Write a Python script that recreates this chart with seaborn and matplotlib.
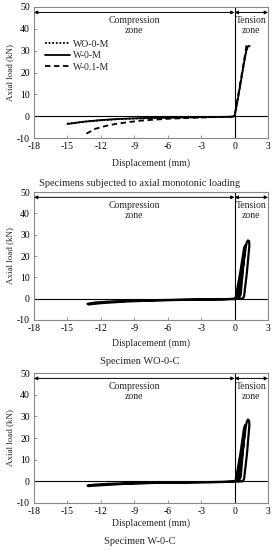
import numpy as np
import pandas as pd
import matplotlib
matplotlib.use("Agg")
import matplotlib.pyplot as plt
import seaborn as sns

# ---- data ----
wo0m_x = [-15.0, -13.5, -12.0, -10.5, -9.0, -7.5, -6.0, -4.5, -3.0, -1.5, -0.3, 0.0, 0.3, 0.6, 0.9, 1.1, 1.25, 1.35]
wo0m_y = [-3.4, -2.6, -1.9, -1.4, -1.1, -0.9, -0.7, -0.6, -0.5, -0.4, -0.3, 0.0, 8.0, 17.0, 26.0, 30.5, 32.0, 32.5]
w0m_x = [-15.0, -13.5, -12.0, -10.5, -9.0, -7.5, -6.0, -4.5, -3.0, -1.5, -0.3, 0.0, 0.3, 0.6, 0.9, 1.05, 1.2, 1.35]
w0m_y = [-3.6, -2.5, -1.8, -1.3, -1.0, -0.8, -0.7, -0.55, -0.45, -0.35, -0.25, 0.0, 8.0, 17.0, 26.0, 30.0, 32.0, 32.0]
w01m_x = [-13.3, -12.5, -11.5, -10.5, -9.5, -8.5, -7.5, -6.0, -4.5, -3.0, -1.5, -0.3, 0.0, 0.3, 0.6, 0.9, 1.05, 1.15]
w01m_y = [-8.0, -5.8, -4.4, -3.4, -2.7, -2.1, -1.7, -1.2, -0.9, -0.6, -0.4, -0.3, 0.0, 9.0, 18.0, 27.0, 32.0, 34.0]

wo0c_x = [0.0, 0.1, 0.5, 0.85, 0.95, 0.9, 0.55, 0.35, 0.3, 0.7, 1.0, 1.1, 1.2, 1.3, 1.33, 1.1, 0.85, 0.7, 0.3, 0.0,
          -3.0, -6.0, -9.0, -11.0, -12.5, -13.2, -13.1, -12.0, -10.0, -7.0, -4.0, -1.0, 0.0]
wo0c_y = [0.0, 0.5, 12.0, 23.5, 25.0, 22.0, 2.0, 0.0, 0.5, 13.0, 24.0, 26.5, 27.3, 27.0, 25.0, 12.0, 1.0, 0.0, 0.0, -0.2,
          -0.4, -0.6, -0.9, -1.3, -1.8, -2.4, -2.7, -2.1, -1.4, -0.8, -0.5, -0.3, 0.0]
w0c_x = [0.0, 0.1, 0.5, 0.85, 0.95, 0.9, 0.55, 0.35, 0.3, 0.7, 1.0, 1.1, 1.2, 1.3, 1.33, 1.1, 0.85, 0.7, 0.3, 0.0,
         -3.0, -6.0, -9.0, -11.0, -12.5, -13.2, -13.1, -12.0, -10.0, -7.0, -4.0, -1.0, 0.0]
w0c_y = [0.0, 0.5, 12.0, 24.5, 26.0, 23.0, 2.0, 0.0, 0.5, 13.0, 25.0, 27.5, 28.5, 28.0, 26.0, 12.0, 1.0, 0.0, 0.0, -0.2,
         -0.4, -0.6, -0.8, -1.1, -1.5, -1.9, -2.2, -1.8, -1.2, -0.7, -0.45, -0.3, 0.0]

x_ticks = [-18, -15, -12, -9, -6, -3, 0, 3]
y_ticks = [-10, 0, 10, 20, 30, 40, 50]
titles = ["Specimens subjected to axial monotonic loading", "Specimen WO-0-C", "Specimen W-0-C"]

sns.set_style("ticks")
plt.rcParams['font.family'] = ['Liberation Serif', 'DejaVu Serif']
plt.rcParams['font.size'] = 7
plt.rcParams['axes.unicode_minus'] = False

fig = plt.figure(figsize=(2.75, 5.5), dpi=100)
positions = [
    [34/275, 1-138/550, 234/275, 131/550],
    [34/275, 1-320/550, 234/275, 128/550],
    [34/275, 1-503/550, 234/275, 130/550],
]
xlabel_y = [163, 343, 523]
title_y = [184, 362, 541]

axes = [fig.add_axes(p) for p in positions]

mono = pd.concat([
    pd.DataFrame({"x": wo0m_x, "y": wo0m_y, "s": "WO-0-M"}),
    pd.DataFrame({"x": w0m_x, "y": w0m_y, "s": "W-0-M"}),
    pd.DataFrame({"x": w01m_x, "y": w01m_y, "s": "W-0.1-M"}),
])
ax = axes[0]
sns.lineplot(data=mono, x="x", y="y", hue="s", style="s", sort=False, estimator=None,
             palette=["black", "black", "black"],
             dashes={"WO-0-M": (1, 1), "W-0-M": "", "W-0.1-M": (3, 2)},
             linewidth=1.3, ax=ax)
ax.legend(loc="upper left", bbox_to_anchor=(0.03, 0.78), frameon=False, fontsize=7,
          handlelength=2.6, labelspacing=0.25, borderaxespad=0, handletextpad=0.3)

cyc = [(wo0c_x, wo0c_y), (w0c_x, w0c_y)]
for ax, (cx, cy) in zip(axes[1:], cyc):
    df = pd.DataFrame({"x": cx, "y": cy})
    sns.lineplot(data=df, x="x", y="y", sort=False, estimator=None, color="black",
                 linewidth=1.6, ax=ax)

for i, ax in enumerate(axes):
    ax.set_xlim(-18, 3)
    ax.set_ylim(-10, 50)
    ax.set_xticks(x_ticks)
    ax.set_yticks(y_ticks)
    ax.tick_params(direction="in", length=2, width=0.6, colors="#888888", labelcolor="black",
                   labelsize=7, pad=3)
    for sp in ax.spines.values():
        sp.set_visible(True)
        sp.set_color("#888888")
        sp.set_linewidth(0.8)
    ax.axhline(0, color="black", lw=0.8, zorder=1)
    ax.axvline(0, color="black", lw=0.8, zorder=1)
    ax.set_xlabel("")
    ax.set_ylabel("Axial load (kN)", fontsize=6.5, labelpad=2)
    ax.annotate("", xy=(-18, 47.5), xytext=(0, 47.5),
                arrowprops=dict(arrowstyle="<|-|>", color="black", lw=0.7,
                                mutation_scale=5, shrinkA=0, shrinkB=0))
    ax.annotate("", xy=(0, 47.5), xytext=(3, 47.5),
                arrowprops=dict(arrowstyle="<|-|>", color="black", lw=0.7,
                                mutation_scale=5, shrinkA=0, shrinkB=0))
    ax.text(-9, 45.8, "Compression\nzone", ha="center", va="top", fontsize=7, linespacing=1.1)
    ax.text(1.5, 45.8, "Tension\nzone", ha="center", va="top", fontsize=7, linespacing=1.1)
    fig.text(151/275, 1 - xlabel_y[i]/550, "Displacement (mm)", ha="center", va="center", fontsize=7)
    fig.text(140/275, 1 - title_y[i]/550, titles[i], ha="center", va="center", fontsize=7.5)

fig.savefig("out.png", dpi=100)
